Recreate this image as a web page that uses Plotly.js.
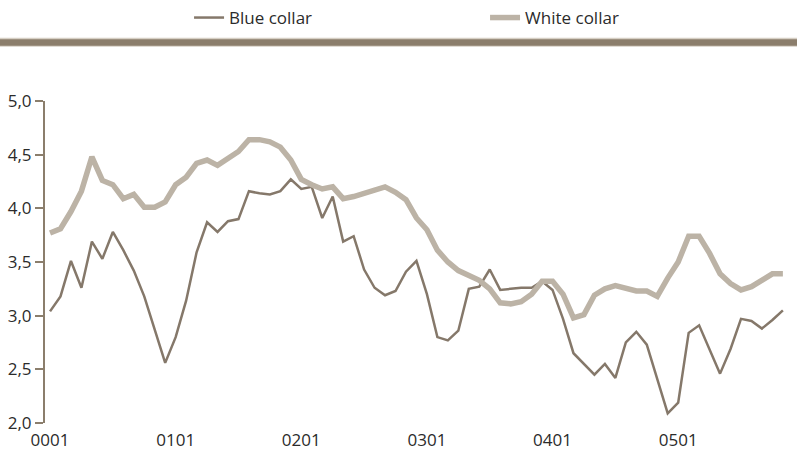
<!DOCTYPE html>
<html>
<head>
<meta charset="utf-8">
<script src="https://cdn.plot.ly/plotly-3.0.1.min.js"></script>
<style>
  html, body { margin: 0; padding: 0; background: #ffffff; }
  #chart { width: 797px; height: 451px; }
</style>
</head>
<body>
<div id="chart"></div>
<script>
// Monthly observations, January 2000 (index 0) to November 2005 (index 70)
const months = Array.from({length: 71}, (_, i) => i);

const tickPositions = [0, 12, 24, 36, 48, 60];
const tickLabels = ["0001", "0101", "0201", "0301", "0401", "0501"];

const blueCollar = [
  3.04, 3.18, 3.51, 3.26, 3.69, 3.53, 3.78, 3.61, 3.42, 3.18, 2.87, 2.56,
  2.80, 3.14, 3.59, 3.87, 3.78, 3.88, 3.90, 4.16, 4.14, 4.13, 4.16, 4.27,
  4.18, 4.20, 3.91, 4.11, 3.69, 3.74, 3.43, 3.26, 3.19, 3.23, 3.41, 3.51,
  3.20, 2.80, 2.77, 2.86, 3.25, 3.27, 3.43, 3.24, 3.25, 3.26, 3.26, 3.32,
  3.24, 2.97, 2.65, 2.55, 2.45, 2.55, 2.42, 2.75, 2.85, 2.73, 2.40, 2.09,
  2.19, 2.84, 2.91, 2.69, 2.46, 2.69, 2.97, 2.95, 2.88, 2.96, 3.05
];

const whiteCollar = [
  3.77, 3.81, 3.97, 4.16, 4.48, 4.26, 4.22, 4.09, 4.13, 4.01, 4.01, 4.06,
  4.22, 4.29, 4.42, 4.45, 4.40, 4.46, 4.53, 4.64, 4.64, 4.62, 4.57, 4.45,
  4.27, 4.22, 4.18, 4.20, 4.09, 4.11, 4.14, 4.17, 4.20, 4.15, 4.08, 3.91,
  3.80, 3.61, 3.50, 3.42, 3.38, 3.33, 3.25, 3.12, 3.11, 3.13, 3.20, 3.32,
  3.32, 3.20, 2.98, 3.01, 3.19, 3.25, 3.28, 3.25, 3.23, 3.23, 3.18, 3.35,
  3.50, 3.74, 3.74, 3.58, 3.39, 3.30, 3.24, 3.27, 3.33, 3.39, 3.39
];

const darkTaupe = "#85786a";
const lightTaupe = "#bcb3a6";
const axisColor = "#8b7e6c";

const traces = [
  {
    x: months, y: blueCollar, type: "scatter", mode: "lines",
    name: "Blue collar",
    line: {color: darkTaupe, width: 2.5}
  },
  {
    x: months, y: whiteCollar, type: "scatter", mode: "lines",
    name: "White collar",
    line: {color: lightTaupe, width: 5.5}
  }
];

const tickFont = {family: "'Open Sans', 'Noto Sans', sans-serif", size: 17, color: "#2b2b2b"};

const layout = {
  width: 797, height: 451,
  margin: {l: 45, r: 7, t: 101, b: 28, pad: 0},
  paper_bgcolor: "#ffffff", plot_bgcolor: "#ffffff",
  separators: ",.",
  showlegend: true,
  legend: {
    orientation: "h",
    xref: "container", yref: "container",
    x: 0.2372, xanchor: "left",
    y: 1.0, yanchor: "top",
    font: {family: "'Liberation Sans Narrow', 'Open Sans', sans-serif", size: 17, color: "#2b2b2b"},
    entrywidth: 251,
    itemwidth: 30,
    bgcolor: "rgba(0,0,0,0)"
  },
  xaxis: {
    range: [-0.48, 70.68],
    tickmode: "array", tickvals: tickPositions, ticktext: tickLabels,
    ticks: "", showline: false, showgrid: false, zeroline: false,
    tickfont: tickFont, ticklabelstandoff: 5, fixedrange: true
  },
  yaxis: {
    range: [2, 5], dtick: 0.5, tick0: 2, tickformat: ".1f",
    ticks: "outside", ticklen: 8, tickwidth: 2, tickcolor: axisColor,
    showline: true, linecolor: axisColor, linewidth: 2,
    showgrid: false, zeroline: false,
    tickfont: tickFont, fixedrange: true
  },
  shapes: [
    {type: "rect", xref: "paper", yref: "paper",
     x0: -0.07, x1: 1.02, y0: (423 - 46.7) / 322, y1: (423 - 37.7) / 322,
     fillcolor: "#d6cfc4", line: {width: 0}, layer: "below"},
    {type: "rect", xref: "paper", yref: "paper",
     x0: -0.07, x1: 1.02, y0: (423 - 45.7) / 322, y1: (423 - 39.3) / 322,
     fillcolor: "#8b7e6c", line: {width: 0}, layer: "below"}
  ]
};

Plotly.newPlot("chart", traces, layout, {displayModeBar: false, staticPlot: true});
</script>
</body>
</html>
